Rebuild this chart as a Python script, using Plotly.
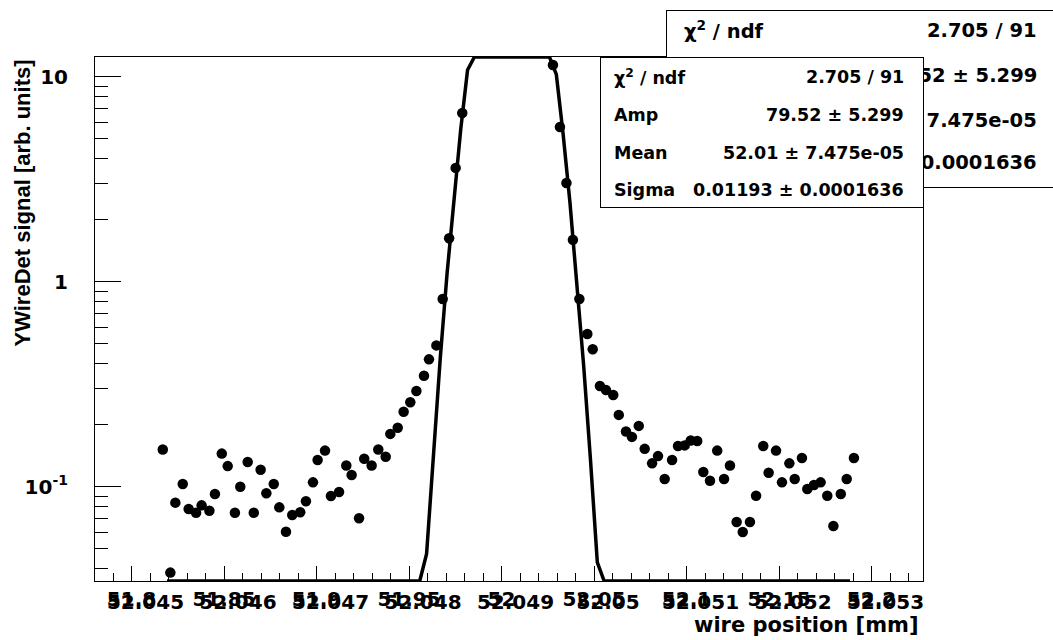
import math
import plotly.graph_objects as go

# ---------------- data ----------------
wire_pos = [
    51.8169, 51.8210, 51.8237, 51.8277, 51.8309, 51.8349, 51.8379, 51.8421, 51.8451, 51.8488,
    51.8520, 51.8559, 51.8588, 51.8628, 51.8661, 51.8698, 51.8729, 51.8769, 51.8799, 51.8835,
    51.8869, 51.8912, 51.8943, 51.8981, 51.9006, 51.9046, 51.9078, 51.9122, 51.9161, 51.9190,
    51.9230, 51.9258, 51.9298, 51.9334, 51.9374, 51.9399, 51.9439, 51.9471, 51.9507, 51.9540,
    51.9581, 51.9608, 51.9648, 51.9682, 51.9717, 51.9752, 51.9788,
    52.0278, 52.0316, 52.0351, 52.0386,
    52.0421, 52.0464, 52.0493, 52.0532, 52.0565, 52.0604, 52.0634, 52.0673, 52.0705, 52.0742,
    52.0774, 52.0814, 52.0846, 52.0882, 52.0922, 52.0954, 52.0990, 52.1023, 52.1058, 52.1091,
    52.1127, 52.1166, 52.1203, 52.1235, 52.1271, 52.1304, 52.1343, 52.1376, 52.1415, 52.1444,
    52.1484, 52.1516, 52.1556, 52.1585, 52.1624, 52.1653, 52.1689, 52.1725, 52.1761, 52.1794,
    52.1834, 52.1866, 52.1905,
]
signal = [
    0.152, 0.0381, 0.0836, 0.103, 0.0778, 0.0747, 0.0811, 0.0764, 0.0921, 0.145,
    0.126, 0.0747, 0.100, 0.132, 0.0747, 0.121, 0.0929, 0.103, 0.0793, 0.0603,
    0.0728, 0.0750, 0.0849, 0.105, 0.135, 0.150, 0.0901, 0.0942, 0.127, 0.114,
    0.0701, 0.137, 0.127, 0.152, 0.140, 0.181, 0.194, 0.232, 0.258, 0.293,
    0.348, 0.418, 0.489, 0.823, 1.63, 3.59, 6.65,
    11.4, 5.68, 3.03, 1.60,
    0.823, 0.556, 0.468, 0.310, 0.296, 0.280, 0.224, 0.186, 0.175, 0.198,
    0.153, 0.130, 0.141, 0.109, 0.135, 0.158, 0.159, 0.168, 0.167, 0.118,
    0.107, 0.150, 0.109, 0.127, 0.0673, 0.0601, 0.0673, 0.0904, 0.158, 0.117,
    0.150, 0.105, 0.130, 0.109, 0.138, 0.0974, 0.102, 0.105, 0.0904, 0.0643,
    0.0921, 0.109, 0.138,
]

# Gaussian fit parameters
fit_amp = 79.52
fit_mean = 52.0055
fit_sigma = 0.01193
fit_range = [51.8192, 52.1884]
fit_npx = 100

# axes
x_range = [51.78027, 52.22784]
y_log_range = [-1.46, 1.0961]
x_major = [51.80, 51.85, 51.90, 51.95, 52.00, 52.05, 52.10, 52.15, 52.20]
x_labels_a = ["51.8", "51.85", "51.9", "51.95", "52", "52.05", "52.1", "52.15", "52.2"]
x_labels_b = ["52.045", "52.046", "52.047", "52.048", "52.049", "52.05", "52.051", "52.052", "52.053"]
y_major = [0.1, 1, 10]
y_labels = ["10<sup>-1</sup>", "1", "10"]
y_minor = [0.04, 0.05, 0.06, 0.07, 0.08, 0.09,
           0.2, 0.3, 0.4, 0.5, 0.6, 0.7, 0.8, 0.9,
           2, 3, 4, 5, 6, 7, 8, 9]

stats_labels = ["χ<sup>2</sup> / ndf", "Amp", "Mean", "Sigma"]
stats_values = ["2.705 / 91", "79.52 ± 5.299", "52.01 ± 7.475e-05", "0.01193 ± 0.0001636"]

x_title = "wire position [mm]"
y_title = "YWireDet signal [arb. units]"

# ---------------- figure ----------------
W, H = 1053, 640
ML, MR, MT, MB = 95, 130, 57, 59
PW, PH = W - ML - MR, H - MT - MB


def pxx(p):
    return (p - ML) / PW


def pxy(p):
    return (H - MB - p) / PH


ymin, ymax = 10 ** y_log_range[0], 10 ** y_log_range[1]

fx, fy = [], []
for i in range(fit_npx + 1):
    xv = fit_range[0] + (fit_range[1] - fit_range[0]) * i / fit_npx
    yv = fit_amp * math.exp(-0.5 * ((xv - fit_mean) / fit_sigma) ** 2)
    fx.append(xv)
    fy.append(min(max(yv, ymin), ymax))

fig = go.Figure()
fig.add_trace(go.Scatter(x=wire_pos, y=signal, mode="markers",
                         marker=dict(symbol="circle", size=10.5, color="black"),
                         showlegend=False, hoverinfo="skip"))
fig.add_trace(go.Scatter(x=fx, y=fy, mode="lines",
                         line=dict(color="black", width=3.5),
                         showlegend=False, hoverinfo="skip"))
# helper traces so the overlaid axes exist
fig.add_trace(go.Scatter(x=[x_major[0]], y=[1], xaxis="x2", yaxis="y", mode="markers",
                         marker=dict(opacity=0), showlegend=False, hoverinfo="skip"))
fig.add_trace(go.Scatter(x=[x_major[0]], y=[1], xaxis="x", yaxis="y2", mode="markers",
                         marker=dict(opacity=0), showlegend=False, hoverinfo="skip"))

tick_font = dict(family="DejaVu Sans", size=20, color="black", weight="bold")

fig.update_layout(
    width=W, height=H,
    margin=dict(l=ML, r=MR, t=MT, b=MB, pad=0),
    paper_bgcolor="white", plot_bgcolor="white",
    showlegend=False,
    xaxis=dict(range=x_range, showline=True, mirror=True, linecolor="black", linewidth=1,
               ticks="inside", ticklen=15, tickwidth=1, tickcolor="black",
               tickvals=x_major, ticktext=x_labels_a, tickfont=tick_font,
               minor=dict(ticks="inside", ticklen=8, tickwidth=1, tickcolor="black",
                          dtick=0.01, tick0=51.8, showgrid=False),
               showgrid=False, zeroline=False, ticklabelstandoff=0),
    xaxis2=dict(range=x_range, overlaying="x", anchor="y", side="bottom",
                showline=False, ticks="", tickvals=x_major, ticktext=x_labels_b,
                tickfont=tick_font, ticklabelshift=14, showgrid=False, zeroline=False,
                ticklabelstandoff=7),
    yaxis=dict(type="log", range=y_log_range, showline=True, mirror=True, linecolor="black",
               linewidth=1, ticks="inside", ticklen=26, tickwidth=1, tickcolor="black",
               tickvals=y_major, ticktext=y_labels, tickfont=tick_font,
               showgrid=False, zeroline=False, ticklabelstandoff=22),
    yaxis2=dict(type="log", range=y_log_range, overlaying="y", anchor="x", side="left",
                showline=False, ticks="inside", ticklen=13, tickwidth=1, tickcolor="black",
                tickvals=y_minor, showticklabels=False, showgrid=False, zeroline=False),
)

ann = []
ann.append(dict(text=y_title, textangle=-90, xref="paper", yref="paper",
                x=pxx(22), y=pxy(58), xanchor="center", yanchor="top", showarrow=False,
                font=dict(family="Liberation Sans", size=22, color="black", weight="bold")))
ann.append(dict(text=x_title, xref="paper", yref="paper",
                x=pxx(921), y=pxy(625), xanchor="right", yanchor="middle", showarrow=False,
                font=dict(family="DejaVu Sans", size=21, color="black", weight="bold")))

# back stats box
ann.append(dict(text=" ", xref="paper", yref="paper", x=pxx(666), y=pxy(10),
                xanchor="left", yanchor="top", width=420, height=176, bgcolor="white",
                bordercolor="black", borderwidth=1, borderpad=0, showarrow=False,
                font=dict(size=4)))
back_rows = [30, 76, 120, 163]
bfont = dict(family="DejaVu Sans", size=19.5, color="black", weight="bold")
for lab, val, r in zip(stats_labels, stats_values, back_rows):
    ann.append(dict(text=lab, xref="paper", yref="paper", x=pxx(682), y=pxy(r),
                    xanchor="left", yanchor="middle", showarrow=False, font=bfont))
    ann.append(dict(text=val, xref="paper", yref="paper", x=pxx(1039), y=pxy(r),
                    xanchor="right", yanchor="middle", showarrow=False, font=bfont))

# front stats box
ann.append(dict(text=" ", xref="paper", yref="paper", x=pxx(600), y=pxy(57),
                xanchor="left", yanchor="top", width=322, height=149, bgcolor="white",
                bordercolor="black", borderwidth=1, borderpad=0, showarrow=False,
                font=dict(size=4)))
front_rows = [77, 115, 153, 190]
ffont = dict(family="DejaVu Sans", size=17.5, color="black", weight="bold")
for lab, val, r in zip(stats_labels, stats_values, front_rows):
    ann.append(dict(text=lab, xref="paper", yref="paper", x=pxx(612), y=pxy(r),
                    xanchor="left", yanchor="middle", showarrow=False, font=ffont))
    ann.append(dict(text=val, xref="paper", yref="paper", x=pxx(906), y=pxy(r),
                    xanchor="right", yanchor="middle", showarrow=False, font=ffont))

fig.update_layout(annotations=ann)
fig.write_html("out.html")
